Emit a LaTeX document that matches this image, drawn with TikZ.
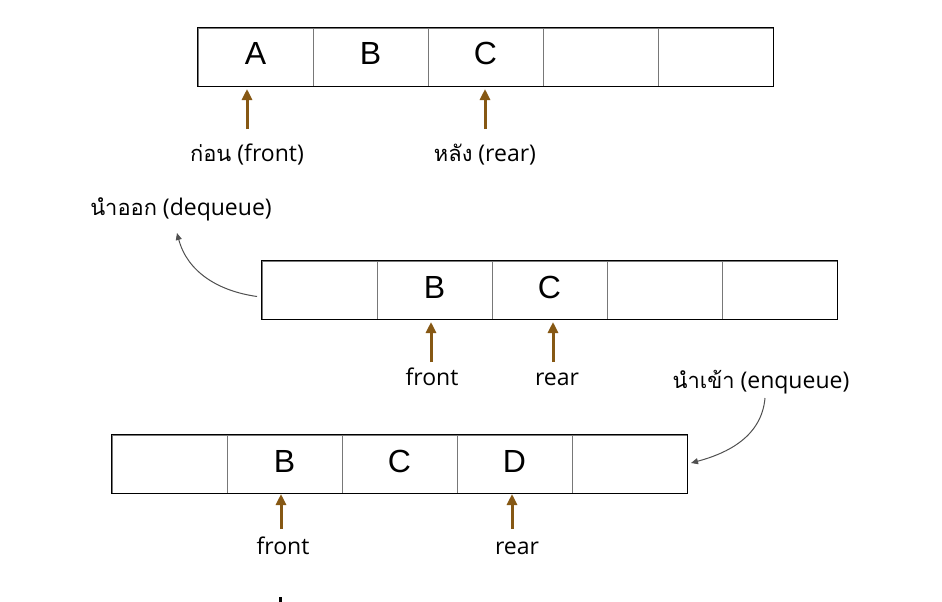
\documentclass[tikz,border=0pt]{standalone}
\usepackage{fontspec}
\setmainfont{Open Sans}
\newfontfamily\thaifont[Script=Thai,Scale=0.95]{Loma}
\newfontfamily\cellfont{Liberation Sans}
\usetikzlibrary{arrows.meta}
\definecolor{ptrbrown}{RGB}{134,88,20}
\definecolor{divgray}{RGB}{120,120,120}
\definecolor{curvegray}{RGB}{80,80,80}
\begin{document}
\begin{tikzpicture}[x=1pt,y=-1pt,
  cell/.style={draw=divgray, line width=0.9pt, minimum width=115pt, minimum height=58pt,
    inner sep=0pt, text height=23pt, text depth=7pt, font=\cellfont\fontsize{32}{36}\selectfont},
  outer/.style={draw=black, line width=1.8pt},
  ptr/.style={draw=ptrbrown, line width=3pt, -{Triangle[length=11pt,width=10pt]}},
  lbl/.style={anchor=base, inner sep=0pt, font=\fontsize{23}{27}\selectfont},
  curvearrow/.style={draw=curvegray, line width=1pt, -{Triangle[length=7pt,width=6pt]}}]
\useasboundingbox (0,0) rectangle (942,602);
\fill[white] (0,0) rectangle (942,602);

% top array
\node[cell] (t1) at (255.5,57) {A};
\node[cell] (t2) at (370.5,57) {B};
\node[cell] (t3) at (485.5,57) {C};
\node[cell] (t4) at (600.5,57) {};
\node[cell] (t5) at (715.5,57) {};
\draw[outer] (t1.north west) rectangle (t5.south east);

% middle array
\node[cell] (m1) at (319.5,290) {};
\node[cell] (m2) at (434.5,290) {B};
\node[cell] (m3) at (549.5,290) {C};
\node[cell] (m4) at (664.5,290) {};
\node[cell] (m5) at (779.5,290) {};
\draw[outer] (m1.north west) rectangle (m5.south east);

% bottom array
\node[cell] (b1) at (169.5,464) {};
\node[cell] (b2) at (284.5,464) {B};
\node[cell] (b3) at (399.5,464) {C};
\node[cell] (b4) at (514.5,464) {D};
\node[cell] (b5) at (629.5,464) {};
\draw[outer] (b1.north west) rectangle (b5.south east);

% labels
\node[lbl] (tf) at (247,161) {{\thaifont ก่อน} (front)};
\node[lbl] (tr) at (485,161) {{\thaifont หลัง} (rear)};
\node[lbl] (deq) at (181,215) {{\thaifont นำออก} (dequeue)};
\node[lbl] (mf) at (432,385) {front};
\node[lbl] (mr) at (557,385) {rear};
\node[lbl] (enq) at (761,388) {{\thaifont นำเข้า} (enqueue)};
\node[lbl] (bf) at (283,554) {front};
\node[lbl] (br) at (517,554) {rear};

% pointer arrows
\coordinate (tfs) at (247,129); \coordinate (tfe) at (247,89);
\coordinate (trs) at (485,129); \coordinate (tre) at (485,89);
\coordinate (mfs) at (431,362); \coordinate (mfe) at (431,322);
\coordinate (mrs) at (553,362); \coordinate (mre) at (553,322);
\coordinate (bfs) at (281,529); \coordinate (bfe) at (281,494);
\coordinate (brs) at (512,529); \coordinate (bre) at (512,494);
\draw[ptr] (tfs) -- (tfe);
\draw[ptr] (trs) -- (tre);
\draw[ptr] (mfs) -- (mfe);
\draw[ptr] (mrs) -- (mre);
\draw[ptr] (bfs) -- (bfe);
\draw[ptr] (brs) -- (bre);

% curved arrows
\coordinate (ds) at (257,296.5); \coordinate (de) at (177,233);
\draw[curvearrow] (ds) to[out=172, in=-75] (de);
\coordinate (es) at (765,398); \coordinate (ee) at (691,463);
\draw[curvearrow] (es) to[out=-95, in=15] (ee);

% stray mark
\fill[black] (279,597) rectangle (282,602);
\end{tikzpicture}
\end{document}
